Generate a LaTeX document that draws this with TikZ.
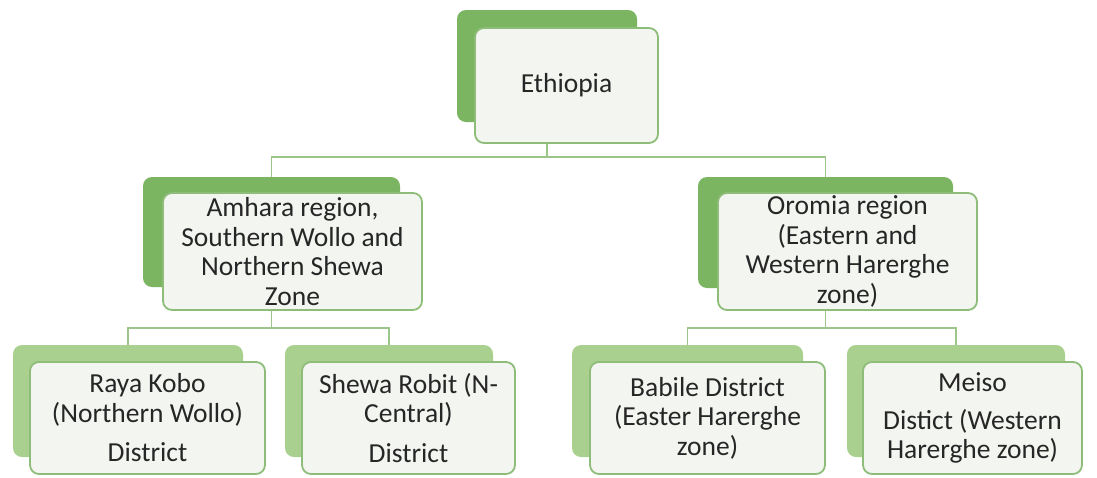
\documentclass[tikz,border=0pt]{standalone}
\usepackage{fontspec}
\setmainfont{Carlito}
\definecolor{backdark}{HTML}{7CB562}
\definecolor{backlight}{HTML}{A9D08F}
\definecolor{frontfill}{HTML}{F3F5F1}
\definecolor{frontline}{HTML}{8DBD78}
\definecolor{connline}{HTML}{9CC58A}
\definecolor{txt}{HTML}{262626}
\begin{document}
\begin{tikzpicture}[x=1pt,y=-1pt,
  backbox/.style={rectangle,rounded corners=9pt,inner sep=0pt,draw=none},
  darkback/.style={backbox,fill=backdark},
  lightback/.style={backbox,fill=backlight},
  frontbox/.style={rectangle,rounded corners=9pt,inner sep=0pt,fill=frontfill,draw=frontline,line width=1.8pt,
    align=center,text=txt,font=\fontsize{27.5}{29.5}\selectfont},
  conn/.style={draw=connline,line width=1.5pt}]
\useasboundingbox (0,0) rectangle (1097,477);
% back boxes
\node[darkback,minimum width=180pt,minimum height=112pt] (topback) at (547,66) {};
\node[darkback,minimum width=257pt,minimum height=110pt] (mlback) at (271.5,232) {};
\node[darkback,minimum width=255pt,minimum height=111pt] (mrback) at (825.5,232.5) {};
\node[lightback,minimum width=230pt,minimum height=112pt] (b1back) at (128,401) {};
\node[lightback,minimum width=208pt,minimum height=112pt] (b2back) at (389,401) {};
\node[lightback,minimum width=231pt,minimum height=112pt] (b3back) at (687.5,401) {};
\node[lightback,minimum width=218pt,minimum height=112pt] (b4back) at (956,401) {};
% connectors
\draw[conn] (topback.center) -- ++(0,91) -| (mlback.north);
\draw[conn] (topback.center) ++(0,91) -| (mrback.north);
\draw[conn] (mlback.center) -- ++(0,96) -| (b1back.north);
\draw[conn] (mlback.center) ++(0,96) -| (b2back.north);
\draw[conn] (mrback.center) -- ++(0,95.5) -| (b3back.north);
\draw[conn] (mrback.center) ++(0,95.5) -| (b4back.north);
% front boxes
\node[frontbox,minimum width=183pt,minimum height=115pt] (top) at (566.5,85.5) {Ethiopia};
\node[frontbox,minimum width=259pt,minimum height=117pt] (ml) at (292.5,251.5) {Amhara region,\\Southern Wollo and\\Northern Shewa\\Zone};
\node[frontbox,minimum width=259pt,minimum height=117pt] (mr) at (847.5,251.5) {Oromia region\\(Eastern and\\Western Harerghe\\zone)};
\node[frontbox,minimum width=235pt,minimum height=112pt] (b1) at (147.5,418) {Raya Kobo\\(Northern Wollo)\\[10pt]District};
\node[frontbox,minimum width=213pt,minimum height=112pt] (b2) at (408.5,418) {Shewa Robit (N-\\Central)\\[10pt]District};
\node[frontbox,minimum width=235pt,minimum height=112pt] (b3) at (707.5,418) {Babile District\\(Easter Harerghe\\zone)};
\node[frontbox,minimum width=219pt,minimum height=112pt] (b4) at (972.5,418) {Meiso\\[8pt]Distict (Western\\Harerghe zone)};
\end{tikzpicture}
\end{document}
